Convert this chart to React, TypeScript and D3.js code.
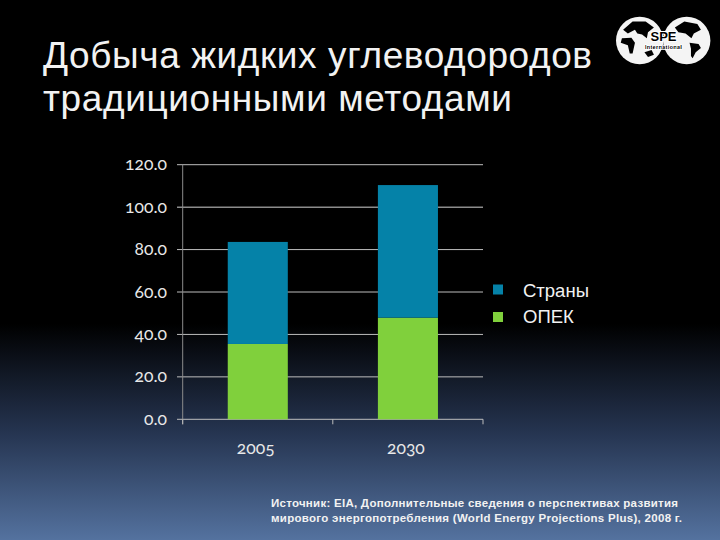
import * as d3 from "d3";

const categories = ["2005", "2030"];
const opecValues = [35.5, 47.9];
const otherValues = [48.1, 62.5];
const yTicks = [0, 20, 40, 60, 80, 100, 120];
const legendLabels = ["Страны", "ОПЕК"];
const legendColors = ["#0582a8", "#80d03c"];
const titleLines = ["Добыча жидких углеводородов", "традиционными методами"];
const sourceLines = [
  "Источник: EIA, Дополнительные сведения о перспективах развития",
  "мирового энергопотребления (World Energy Projections Plus), 2008 г.",
];

const WIDTH = 720;
const HEIGHT = 540;

// rough continents for the logo, in unit-circle coordinates
const LEFT_GLOBE: [number, number][][] = [
  [[-0.7, -0.45], [-0.3, -0.8], [0.25, -0.8], [0.6, -0.55], [0.35, -0.35], [0.3, -0.1], [0.1, -0.25], [-0.1, -0.3], [-0.2, -0.45], [-0.5, -0.3]],
  [[-0.75, -0.1], [-0.35, -0.12], [-0.2, 0.1], [-0.3, 0.55], [-0.42, 0.55], [-0.5, 0.2], [-0.8, 0.1]],
  [[0.2, 0.5], [0.5, 0.4], [0.6, 0.6], [0.35, 0.7]],
];
const RIGHT_GLOBE: [number, number][][] = [
  [[-0.5, -0.55], [-0.1, -0.8], [0.45, -0.7], [0.6, -0.45], [0.3, -0.3], [0.2, -0.1], [-0.05, -0.3], [-0.35, -0.35]],
  [[0.12, 0.1], [0.5, 0.15], [0.6, 0.32], [0.38, 0.5], [0.25, 0.75], [0.18, 0.65], [0.18, 0.35]],
];

export default function App() {
  const x = d3.scaleBand<string>().domain(categories).range([182.7, 483]).paddingInner(0.6).paddingOuter(0.3);
  const y = d3.scaleLinear().domain([0, 120]).range([419.3, 164.7]);

  const stack = d3
    .stack<number>()
    .keys(["opec", "other"])
    .value((i, key) => (key === "opec" ? opecValues[i] : otherValues[i]));
  const stacked = stack(categories.map((_, i) => i));
  const seriesColors = [legendColors[1], legendColors[0]];

  const blob = d3.line().curve(d3.curveLinearClosed);
  const globe = (cx: number, r: number, shapes: [number, number][][]) => (
    <g transform={`translate(${cx},40.5)`}>
      <circle r={r} fill="#f4f4f4" />
      {shapes.map((s, i) => (
        <path key={i} d={blob(s.map(([a, b]) => [a * r, b * r] as [number, number])) ?? ""} fill="#000" />
      ))}
    </g>
  );

  return (
    <svg
      width={WIDTH}
      height={HEIGHT}
      style={{ position: "fixed", left: 0, top: 0, display: "block" }}
    >
      <defs>
        <linearGradient id="bg" x1="0" y1="0" x2="0" y2="1">
          <stop offset="0.6" stopColor="#000000" />
          <stop offset="0.8" stopColor="#253450" />
          <stop offset="1" stopColor="#54729f" />
        </linearGradient>
      </defs>
      <rect width={WIDTH} height={HEIGHT} fill="url(#bg)" />

      {titleLines.map((t, i) => (
        <text
          key={t}
          x={43}
          y={68 + i * 43}
          fill="#f2f2f2"
          fontFamily="Liberation Sans"
          fontSize={37}
          textLength={i === 0 ? 549 : 469}
          lengthAdjust="spacing"
        >
          {t}
        </text>
      ))}

      {/* logo */}
      {globe(639.7, 23.7, LEFT_GLOBE)}
      {globe(686.7, 23.7, RIGHT_GLOBE)}
      <text
        x={663.5}
        y={40.5}
        textAnchor="middle"
        fill="#000"
        stroke="#fff"
        strokeWidth={2}
        paintOrder="stroke"
        fontFamily="Liberation Sans"
        fontWeight="bold"
        fontSize={13}
      >
        SPE
      </text>
      <text
        x={663.5}
        y={49}
        textAnchor="middle"
        fill="#000"
        stroke="#fff"
        strokeWidth={1.5}
        paintOrder="stroke"
        fontFamily="Liberation Sans"
        fontWeight="bold"
        fontSize={6}
        textLength={37}
      >
        International
      </text>

      {/* grid + axes */}
      {yTicks.map((t) => (
        <g key={t}>
          <line x1={177} x2={483} y1={y(t)} y2={y(t)} stroke={t === 100 ? "#8c8c8c" : "#bdbdbd"} strokeWidth={t === 100 ? 1.5 : 1} />
          <text
            x={167}
            y={y(t) + 5.5}
            textAnchor="end"
            fill="#e8e8e8"
            fontFamily="Lato"
            fontSize={17.5}
            style={{ fontVariantNumeric: "oldstyle-nums" }}
          >
            {t.toFixed(1)}
          </text>
        </g>
      ))}
      <line x1={182.7} x2={182.7} y1={y(120)} y2={y(0) + 5} stroke="#8c8c8c" strokeWidth={1} />
      {[182.7, 332.8, 483].map((tx) => (
        <line key={tx} x1={tx} x2={tx} y1={y(0)} y2={y(0) + 5} stroke="#bdbdbd" strokeWidth={1} />
      ))}

      {/* bars */}
      {stacked.map((layer, li) =>
        layer.map((d, i) => (
          <rect
            key={`${li}-${i}`}
            x={x(categories[i])}
            width={x.bandwidth()}
            y={y(d[1])}
            height={y(d[0]) - y(d[1])}
            fill={seriesColors[li]}
          />
        ))
      )}

      {categories.map((c) => (
        <text
          key={c}
          x={(x(c) ?? 0) + x.bandwidth() / 2 - 2}
          y={454}
          textAnchor="middle"
          fill="#e8e8e8"
          fontFamily="Lato"
          fontSize={17.5}
          style={{ fontVariantNumeric: "oldstyle-nums" }}
        >
          {c}
        </text>
      ))}

      {/* legend */}
      {legendLabels.map((l, i) => (
        <g key={l}>
          <rect x={493} y={284.5 + i * 27.5} width={10} height={10} fill={legendColors[i]} />
          <text x={523} y={297 + i * 26} fill="#f2f2f2" fontFamily="Liberation Sans" fontSize={18.5}>
            {l}
          </text>
        </g>
      ))}

      {sourceLines.map((s, i) => (
        <text
          key={s}
          x={271}
          y={507 + i * 15}
          fill="#f2f2f2"
          fontFamily="Liberation Sans"
          fontWeight="bold"
          fontSize={11.5}
          textLength={i === 0 ? 407 : 411}
          lengthAdjust="spacing"
        >
          {s}
        </text>
      ))}
    </svg>
  );
}
